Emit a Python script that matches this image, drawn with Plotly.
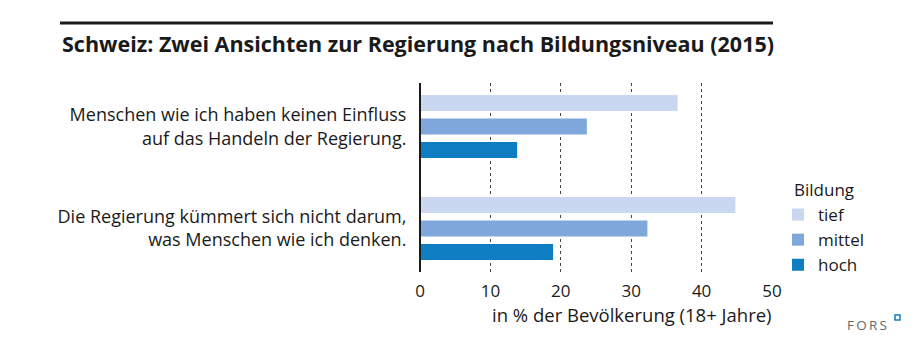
import plotly.graph_objects as go

categories = ["Menschen wie ich haben keinen Einfluss<br>auf das Handeln der Regierung.",
              "Die Regierung kümmert sich nicht darum,<br>was Menschen wie ich denken."]
series_names = ["tief", "mittel", "hoch"]
tief = [36.6, 44.8]
mittel = [23.7, 32.3]
hoch = [13.8, 18.9]
colors = ["#c9d7f0", "#7fa7db", "#0e7dc2"]
x_ticks = [0, 10, 20, 30, 40, 50]

W, H = 920, 347
L, R, T, B = 420, 148, 83, 75
pw, ph = W - L - R, H - T - B

def px(x):
    return (x - L) / pw

def py(y):
    return (H - B - y) / ph

FONT = "Open Sans"
fig = go.Figure()
for name, vals, c in zip(series_names, [tief, mittel, hoch], colors):
    fig.add_trace(go.Bar(y=[0, 1], x=vals, name=name, orientation="h",
                         marker=dict(color=c, line=dict(width=0))))

fig.update_layout(
    width=W, height=H, margin=dict(l=L, r=R, t=T, b=B),
    paper_bgcolor="white", plot_bgcolor="white",
    barmode="group", bargap=0.31, bargroupgap=0.317,
    font=dict(family=FONT, size=17, color="#1a1a1a"),
    showlegend=True,
    legend=dict(x=px(778), xanchor="left", y=py(197), yanchor="top",
                traceorder="normal", font=dict(size=17),
                itemwidth=30, tracegroupgap=0, bgcolor="rgba(0,0,0,0)"),
    xaxis=dict(range=[0, 50], tickvals=x_ticks, ticktext=[str(v) for v in x_ticks],
               showgrid=True, gridcolor="#444", griddash="dot", gridwidth=1.3,
               zeroline=False, showline=False, ticks="outside", ticklen=4,
               tickcolor="rgba(0,0,0,0)", tickfont=dict(size=17)),
    yaxis=dict(range=[1.427, -0.427], tickvals=[0, 1], ticktext=categories,
               showgrid=False, zeroline=False, showline=False, ticks="outside",
               ticklen=9, tickcolor="rgba(0,0,0,0)", tickfont=dict(size=18)),
    shapes=[
        dict(type="line", xref="paper", yref="paper", x0=0, x1=0, y0=0, y1=1,
             line=dict(color="#1a1a1a", width=2)),
        dict(type="line", xref="paper", yref="paper", x0=px(60), x1=px(773),
             y0=py(23), y1=py(23), line=dict(color="#1a1a1a", width=3)),
        dict(type="rect", xref="paper", yref="paper", x0=px(895), x1=px(900),
             y0=py(320), y1=py(315), line=dict(color="#0e7dc2", width=1.5)),
    ],
    annotations=[
        dict(text="<b>Schweiz: Zwei Ansichten zur Regierung nach Bildungsniveau (2015)</b>",
             xref="paper", yref="paper", x=px(60), y=py(43), xanchor="left",
             yanchor="middle", showarrow=False, font=dict(size=21.5, color="#1a1a1a")),
        dict(text="Bildung", xref="paper", yref="paper", x=px(792), y=py(189),
             xanchor="left", yanchor="middle", showarrow=False, font=dict(size=17)),
        dict(text="in % der Bevölkerung (18+ Jahre)", xref="paper", yref="paper",
             x=px(774), y=py(314), xanchor="right", yanchor="middle", showarrow=False,
             font=dict(size=18.5)),
        dict(text="F\u2009O\u2009R\u2009S", xref="paper", yref="paper", x=px(889), y=py(325),
             xanchor="right", yanchor="middle", showarrow=False,
             font=dict(size=13.5, color="#666666")),
    ],
)
fig.write_html("out.html")
